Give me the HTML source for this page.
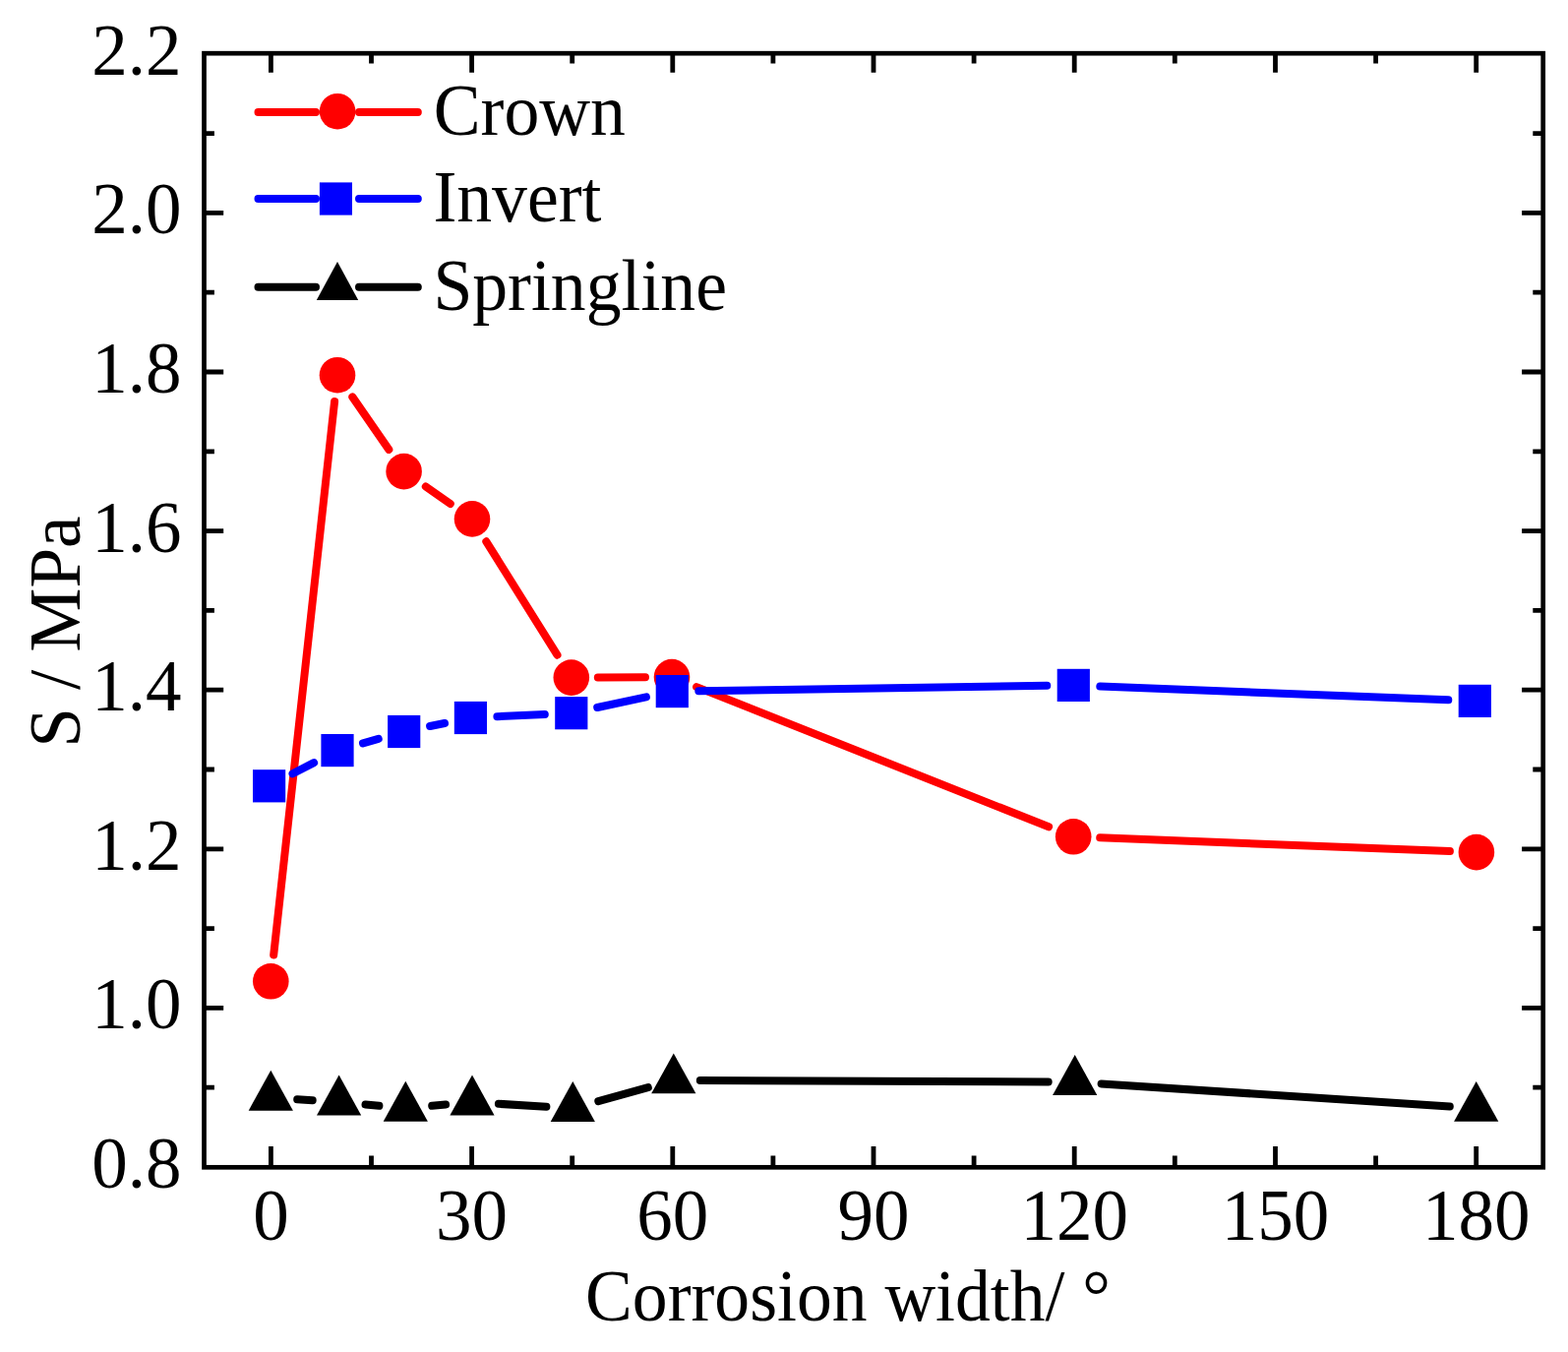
<!DOCTYPE html>
<html><head><meta charset="utf-8"><title>Chart</title>
<style>html,body{margin:0;padding:0;background:#fff;} svg{display:block;} text{font-family:"Liberation Serif",serif;}</style>
</head><body>
<svg width="1594" height="1374" viewBox="0 0 1594 1374"><rect x="207.5" y="54.2" width="1361.2" height="1132.1" fill="none" stroke="#000" stroke-width="4.7"/>
<path d="M275.4 1186.3V1165.1M275.4 54.2V73.8M377.5 1186.3V1174.5M377.5 54.2V64.5M479.6 1186.3V1165.1M479.6 54.2V73.8M581.7 1186.3V1174.5M581.7 54.2V64.5M683.8 1186.3V1165.1M683.8 54.2V73.8M785.9 1186.3V1174.5M785.9 54.2V64.5M888.0 1186.3V1165.1M888.0 54.2V73.8M990.1 1186.3V1174.5M990.1 54.2V64.5M1092.2 1186.3V1165.1M1092.2 54.2V73.8M1194.3 1186.3V1174.5M1194.3 54.2V64.5M1296.5 1186.3V1165.1M1296.5 54.2V73.8M1398.6 1186.3V1174.5M1398.6 54.2V64.5M1500.7 1186.3V1165.1M1500.7 54.2V73.8M207.5 1105.2H217.9M1568.7 1105.2H1558.3M207.5 1024.4H227.2M1568.7 1024.4H1547.1M207.5 943.6H217.9M1568.7 943.6H1558.3M207.5 862.8H227.2M1568.7 862.8H1547.1M207.5 782.0H217.9M1568.7 782.0H1558.3M207.5 701.2H227.2M1568.7 701.2H1547.1M207.5 620.4H217.9M1568.7 620.4H1558.3M207.5 539.6H227.2M1568.7 539.6H1547.1M207.5 458.8H217.9M1568.7 458.8H1558.3M207.5 378.0H227.2M1568.7 378.0H1547.1M207.5 297.2H217.9M1568.7 297.2H1558.3M207.5 216.4H227.2M1568.7 216.4H1547.1M207.5 135.6H217.9M1568.7 135.6H1558.3" stroke="#000" stroke-width="4.8" fill="none"/>
<g font-size="73" fill="#000"><text x="275.4" y="1260.4" text-anchor="middle">0</text><text x="479.6" y="1260.4" text-anchor="middle">30</text><text x="683.8" y="1260.4" text-anchor="middle">60</text><text x="888.0" y="1260.4" text-anchor="middle">90</text><text x="1092.2" y="1260.4" text-anchor="middle">120</text><text x="1296.5" y="1260.4" text-anchor="middle">150</text><text x="1500.7" y="1260.4" text-anchor="middle">180</text><text x="184.4" y="1206.9" text-anchor="end">0.8</text><text x="184.4" y="1045.3" text-anchor="end">1.0</text><text x="184.4" y="883.7" text-anchor="end">1.2</text><text x="184.4" y="722.1" text-anchor="end">1.4</text><text x="184.4" y="560.5" text-anchor="end">1.6</text><text x="184.4" y="398.9" text-anchor="end">1.8</text><text x="184.4" y="237.3" text-anchor="end">2.0</text><text x="184.4" y="75.7" text-anchor="end">2.2</text></g>
<text transform="translate(595.1 1341.5) scale(0.981 1)" font-size="73">Corrosion width/ °</text>
<text transform="translate(80.5 759.8) rotate(-90)" font-size="73">S / MPa</text>
<path d="M278.2 970.5L340.1 408.0M358.3 403.4L395.3 456.9M432.8 494.5L457.8 512.0M494.3 550.3L566.5 665.7M607.8 688.5L656.0 688.2M708.1 698.1L1066.1 840.3M1118.2 851.3L1473.9 865.1" stroke="#f00" stroke-width="8" stroke-linecap="round" fill="none"/>
<g fill="#f00"><circle cx="275.3" cy="997.3" r="18.3"/><circle cx="343" cy="381.2" r="18.3"/><circle cx="410.6" cy="479.1" r="18.3"/><circle cx="480" cy="527.4" r="18.3"/><circle cx="580.8" cy="688.6" r="18.3"/><circle cx="683" cy="688.1" r="18.3"/><circle cx="1091.2" cy="850.3" r="18.3"/><circle cx="1500.9" cy="866.1" r="18.3"/></g>
<path d="M297.5 786.3L319.1 775.1M369.0 755.3L384.7 750.8M437.1 738.0L452.0 735.0M505.4 728.2L553.8 726.0M607.2 719.0L656.9 708.3M710.3 702.2L1064.3 696.8M1118.3 697.5L1472.3 711.3" stroke="#00f" stroke-width="8" stroke-linecap="round" fill="none"/>
<g fill="#00f"><rect x="257.0" y="782.2" width="33.2" height="33.2"/><rect x="326.4" y="746.0" width="33.2" height="33.2"/><rect x="394.1" y="726.9" width="33.2" height="33.2"/><rect x="461.8" y="712.9" width="33.2" height="33.2"/><rect x="564.2" y="708.1" width="33.2" height="33.2"/><rect x="666.7" y="686.0" width="33.2" height="33.2"/><rect x="1074.7" y="679.8" width="33.2" height="33.2"/><rect x="1482.7" y="695.8" width="33.2" height="33.2"/></g>
<path d="M302.2 1117.2L317.7 1118.2M371.5 1122.6L385.4 1123.8M439.2 1123.8L453.1 1122.6M506.9 1121.8L555.4 1124.8M608.3 1119.2L658.8 1105.2M711.8 1098.0L1065.7 1099.5M1119.6 1101.4L1473.8 1124.6" stroke="#000" stroke-width="8" stroke-linecap="round" fill="none"/>
<g fill="#000"><path d="M275.3 1087.8L252.7 1128.7H297.9Z"/><path d="M344.6 1092.6L322.0 1133.5H367.2Z"/><path d="M412.3 1098.8L389.7 1139.7H434.9Z"/><path d="M480 1092.6L457.4 1133.5H502.6Z"/><path d="M582.3 1099L559.7 1139.9H604.9Z"/><path d="M684.8 1070.4L662.2 1111.3H707.4Z"/><path d="M1092.7 1072.1L1070.1 1113.0H1115.3Z"/><path d="M1500.7 1098.9L1478.1 1139.8H1523.3Z"/></g>
<path d="M262.5 113.9H321M365 113.9H424.8" stroke="#f00" stroke-width="8" stroke-linecap="round"/>
<circle cx="343.1" cy="113.2" r="18.3" fill="#f00"/>
<path d="M262.5 202H321M365 202H424.8" stroke="#00f" stroke-width="8" stroke-linecap="round"/>
<rect x="324.9" y="185.4" width="33.1" height="33.2" fill="#00f"/>
<path d="M262.5 291.8H321M365 291.8H424.8" stroke="#000" stroke-width="8" stroke-linecap="round"/>
<path d="M343 266L321.8 305H364.2Z" fill="#000"/>
<g font-size="73"><text transform="translate(440.8 136.9) scale(0.982 1)">Crown</text><text transform="translate(440.4 225) scale(0.982 1)">Invert</text><text transform="translate(440.4 314.5) scale(0.982 1)">Springline</text></g></svg>
</body></html>
